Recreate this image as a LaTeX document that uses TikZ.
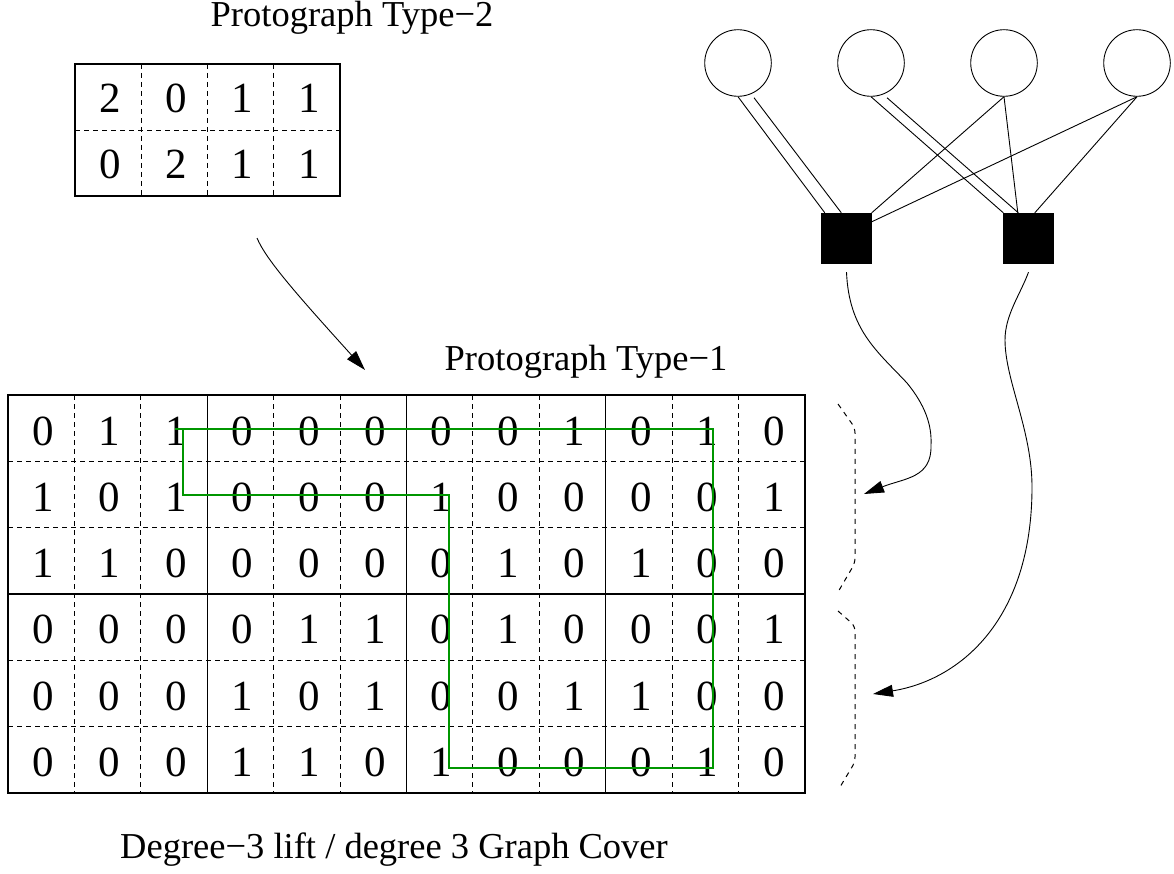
\documentclass[tikz,border=0pt]{standalone}
\usepackage{fontspec}
\setmainfont{Liberation Serif}
\usetikzlibrary{arrows.meta,calc}
\definecolor{pathgreen}{RGB}{0,150,0}
\begin{document}
\begin{tikzpicture}[x=1pt,y=-1pt,
  digit/.style={font=\fontsize{43}{50}\selectfont, anchor=base, inner sep=0pt},
  caption/.style={font=\fontsize{36.5}{44}\selectfont, anchor=base, inner sep=0pt},
  griddash/.style={line width=0.9pt, dash pattern=on 5pt off 4pt},
  matframe/.style={line width=1.1pt},
  vnode/.style={circle, draw, line width=0.9pt, minimum size=66.6pt, inner sep=0pt},
  cnode/.style={rectangle, fill=black, draw=black, minimum size=50pt, inner sep=0pt},
  gedge/.style={line width=0.9pt},
  arr/.style={line width=0.9pt, -{Triangle[length=20pt,width=12pt]}},
  brace/.style={line width=1pt, dash pattern=on 5pt off 5pt, rounded corners=5pt},
  cyclepath/.style={draw=pathgreen, line width=1.5pt}
]
\useasboundingbox (0,0) rectangle (1174,874);

% ---------- small protograph matrix ----------
\draw[matframe] (75,64) rectangle (340,196);
\foreach \i in {1,2,3} \draw[griddash] ({75+\i*66.25},64) -- ({75+\i*66.25},196);
\draw[griddash] (75,130) -- (340,130);
\foreach \r/\row in {0/{2,0,1,1},1/{0,2,1,1}}
  \foreach \v [count=\c from 0] in \row
    \node[digit] (p-\r-\c) at ({75+(\c+0.5)*66.25+2},{64+\r*66+49}) {\v};

% ---------- big lifted matrix ----------
\draw[matframe] (8,395) rectangle (805,793);
\foreach \i in {1,2,4,5,7,8,10,11} \draw[griddash] ({8+\i*66.42},395) -- ({8+\i*66.42},793);
\foreach \i in {3,6,9} \draw[matframe] ({8+\i*66.42},395) -- ({8+\i*66.42},793);
\foreach \i in {1,2,4,5} \draw[griddash] (8,{395+\i*66.33}) -- (805,{395+\i*66.33});
\draw[matframe] (8,{395+3*66.33}) -- (805,{395+3*66.33});
\foreach \r/\row in {0/{0,1,1,0,0,0,0,0,1,0,1,0},
                     1/{1,0,1,0,0,0,1,0,0,0,0,1},
                     2/{1,1,0,0,0,0,0,1,0,1,0,0},
                     3/{0,0,0,0,1,1,0,1,0,0,0,1},
                     4/{0,0,0,1,0,1,0,0,1,1,0,0},
                     5/{0,0,0,1,1,0,1,0,0,0,1,0}}
  \foreach \v [count=\c from 0] in \row
    \node[digit] (m-\r-\c) at ({8+(\c+0.5)*66.42+2},{395+\r*66.33+50}) {\v};

% green cycle
\draw[cyclepath] (175,429) -- (713,429) -- (713,768) -- (449,768) -- (449,495) -- (183,495) -- (183,429);

% ---------- Tanner graph ----------
\node[vnode] (v1) at (738,63) {};
\node[vnode] (v2) at (871,63) {};
\node[vnode] (v3) at (1004,63) {};
\node[vnode] (v4) at (1137,63) {};
\node[cnode] (s1) at (846.5,238) {};
\node[cnode] (s2) at (1028.5,238) {};

\draw[gedge] (v1.south) -- ($(s1.north west)+(3.5,0)$);
\draw[gedge] ($(v1.south)+(16,1)$) -- ($(s1.north west)+(20,0)$);
\draw[gedge] (v2.south) -- (s2.north west);
\draw[gedge] ($(v2.south)+(16,1)$) -- ($(s2.north west)+(15,0)$);
\draw[gedge] (v3.south) -- (s1.north east);
\draw[gedge] (v3.south) -- ($(s2.north west)+(14.5,0)$);
\draw[gedge] (v4.south) -- ($(s1.north east)+(0,9)$);
\draw[gedge] (v4.south) -- ($(s2.north west)+(31.5,0)$);

% ---------- braces ----------
\draw[brace] (838,404) -- (855,428) -- (855,563) -- (838,592);
\draw[brace] (838,611) -- (855,626) -- (855,762) -- (840,787);

% ---------- arrows ----------
\coordinate (s1b) at ($(s1.south)+(0,9)$);
\coordinate (t1) at (864,494);
\draw[arr] (s1b) .. controls (849,330) and (877,351) .. (907,383)
  .. controls (925,405) and (932,425) .. (931,445)
  .. controls (932,478) and (905,478) .. (t1);

\coordinate (s2b) at ($(s2.south)+(0,9)$);
\coordinate (t2) at (873,694);
\draw[arr] (s2b) .. controls (1020,295) and (1005,315) .. (1005,340)
  .. controls (1005,380) and (1032,430) .. (1032,487)
  .. controls (1032,620) and (960,680) .. (t2);

\coordinate (a0) at (257,238);
\coordinate (a1) at (365,370);
\draw[arr] (a0) .. controls (266,260) and (300,298) .. (a1);

% ---------- captions ----------
\node[caption] (cap2) at (352,27) {Protograph Type−2};
\node[caption] (cap1) at (586,370) {Protograph Type−1};
\node[caption] (cov) at (394,858) {Degree−3 lift / degree 3 Graph Cover};
\end{tikzpicture}
\end{document}
